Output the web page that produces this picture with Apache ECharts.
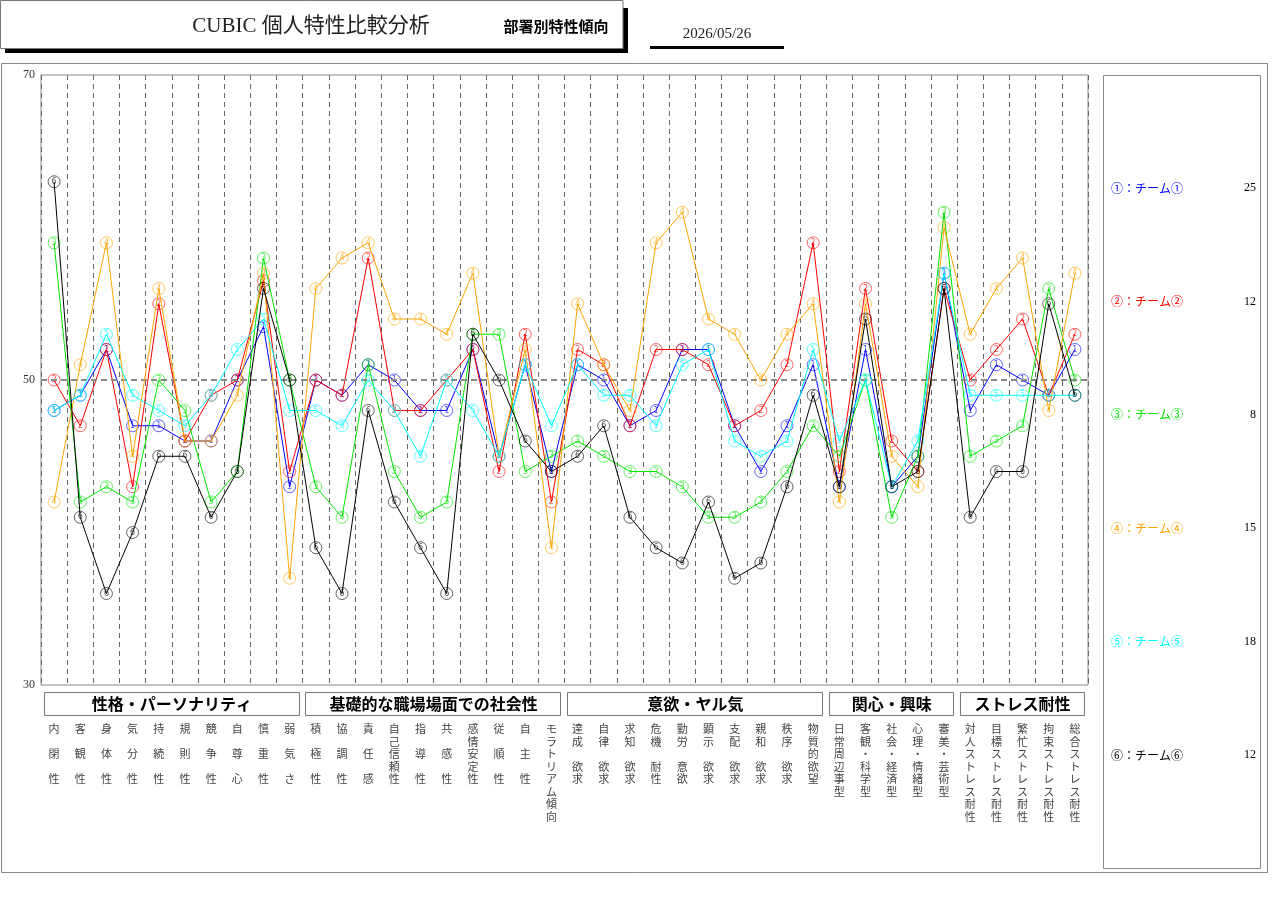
<!DOCTYPE html>
<html><head><meta charset="utf-8">
<script src="https://cdn.jsdelivr.net/npm/echarts@6/dist/echarts.min.js"></script>
<style>html,body{margin:0;padding:0;background:#fff;}#c{width:1280px;height:905px;}</style>
</head><body><div id="c"></div>
<script>
const categories = ['内閉性','客観性','身体性','気分性','持続性','規則性','競争性','自尊心','慎重性','弱気さ',
  '積極性','協調性','責任感','自己信頼性','指導性','共感性','感情安定性','従順性','自主性','モラトリアム傾向',
  '達成欲求','自律欲求','求知欲求','危機耐性','勤労意欲','顕示欲求','支配欲求','親和欲求','秩序欲求','物質的欲望',
  '日常周辺事型','客観・科学型','社会・経済型','心理・情緒型','審美・芸術型',
  '対人ストレス耐性','目標ストレス耐性','繁忙ストレス耐性','拘束ストレス耐性','総合ストレス耐性'];
const groupNames = ['性格・パーソナリティ','基礎的な職場場面での社会性','意欲・ヤル気','関心・興味','ストレス耐性'];
const groupSizes = [10,10,10,5,5];
const seriesNames = ['①：チーム①','②：チーム②','③：チーム③','④：チーム④','⑤：チーム⑤','⑥：チーム⑥'];
const teamCounts = [25,12,8,15,18,12];
const yTicks = [30,50,70];
const refLevel = 50;

const team1 = [48,49,52,47,47,46,46,50,53.5,43, 50,49,51,50,48,48,52,45,51,44, 51,50,47,48,52,52,47,44,47,51, 43,52,43,45,57, 48,51,50,49,52];
const team2 = [50,47,52,43,55,46,49,50,56.5,44, 50,49,58,48,48,50,52,44,53,42, 52,51,47,52,52,51,47,48,51,59, 44,56,46,44,56, 50,52,54,49,53];
const team3 = [59,42,43,42,50,48,42,44,58,50, 43,41,51,44,41,42,53,53,44,45, 46,45,44,44,43,41,41,42,44,47, 45,50,41,45,61, 45,46,47,56,50];
const team4 = [42,51,59,45,56,46,46,49,57,37, 56,58,59,54,54,53,57,45,52,39, 55,51,48,59,61,54,53,50,53,55, 42,55,45,43,60, 53,56,58,48,57];
const team5 = [48,49,53,49,48,47,49,52,54,48, 48,47,50,48,45,50,48,45,51,47, 51,49,49,47,51,52,46,45,46,52, 46,50,43,46,57, 49,49,49,49,49];
const team6 = [63,41,36,40,45,45,41,44,56,50, 39,36,48,42,39,36,53,50,46,44, 45,47,41,39,38,42,37,38,43,49, 43,54,43,44,56, 41,44,44,55,49];
const teamValues = [team1,team2,team3,team4,team5,team6];
const colors = ['#0000ff','#ff0000','#00e600','#ffa500','#00ffff','#000000'];
const digits = ['1','2','3','4','5','6'];

function vert(s){
  const c = Array.from(s);
  if (c.length === 3) return c.join('\n\n');
  if (c.length === 4) return c[0]+'\n'+c[1]+'\n\n'+c[2]+'\n'+c[3];
  return c.join('\n');
}

const jp = '"Noto Sans CJK JP", sans-serif';
const serif = '"Liberation Serif", "Noto Sans CJK JP", serif';

const chart = echarts.init(document.getElementById('c'));
const series = teamValues.map((vals, i) => ({
  name: seriesNames[i],
  type: 'line',
  data: vals,
  z: 2 + i,
  symbol: 'circle',
  symbolSize: 12,
  lineStyle: {color: colors[i], width: 1},
  itemStyle: {color: 'rgba(255,255,255,0)', borderColor: colors[i], borderWidth: 1, opacity: 0.6},
  label: {show: true, position: 'inside', formatter: digits[i], fontSize: 8, color: colors[i], opacity: 0.7, fontFamily: 'DejaVu Sans'},
  emphasis: {disabled: true},
  markLine: i === 0 ? {
    silent: true, symbol: ['none','none'], label: {show: false},
    lineStyle: {type: [6,4], color: '#888', width: 2},
    data: [{yAxis: refLevel}]
  } : undefined
}));

chart.setOption({
  animation: false,
  backgroundColor: '#fff',
  grid: {left: 41, right: 192, top: 75, bottom: 220, show: true, borderColor: '#888', borderWidth: 1, backgroundColor: 'rgba(0,0,0,0)'},
  xAxis: {
    type: 'category', data: categories, boundaryGap: true,
    axisLine: {show: false}, axisTick: {show: false},
    splitLine: {show: true, interval: 0, lineStyle: {type: [5,4], color: '#666', width: 1}},
    axisLabel: {interval: 0, margin: 38, lineHeight: 12.5, fontSize: 11, color: '#444', verticalAlign: 'top', fontFamily: jp, formatter: v => vert(v)}
  },
  yAxis: {
    type: 'value', min: yTicks[0], max: yTicks[yTicks.length-1], interval: yTicks[1]-yTicks[0],
    axisLine: {show: false}, axisTick: {show: false}, splitLine: {show: false},
    axisLabel: {color: '#333', fontSize: 12, margin: 6, fontFamily: serif}
  },
  legend: {
    orient: 'vertical', left: 1100, top: 175, itemGap: 97.4, itemWidth: 0, itemHeight: 14,
    icon: 'rect', selectedMode: false,
    itemStyle: {opacity: 0}, lineStyle: {opacity: 0},
    data: seriesNames.map((n,i) => ({name: n, textStyle: {color: colors[i]}})),
    formatter: name => '{n|' + name + '}{c|' + teamCounts[seriesNames.indexOf(name)] + '}',
    textStyle: {fontSize: 12, fontFamily: jp, rich: {
      n: {width: 125, fontSize: 12, fontFamily: jp},
      c: {width: 20, align: 'right', color: '#000', fontSize: 12, fontFamily: serif}
    }}
  },
  series: series
});

// decorations and group boxes computed from the axis scale
const band = chart.convertToPixel({xAxisIndex: 0}, categories[1]) - chart.convertToPixel({xAxisIndex: 0}, categories[0]);
const graphics = [
  {type: 'rect', shape: {x: 1.5, y: 63.5, width: 1266, height: 809}, style: {fill: null, stroke: '#888', lineWidth: 1}, z: -1},
  {type: 'rect', shape: {x: 1103.5, y: 75.5, width: 157, height: 793}, style: {fill: null, stroke: '#888', lineWidth: 1}, z: -1},
  {type: 'rect', shape: {x: 5, y: 48, width: 623, height: 5}, style: {fill: '#000'}},
  {type: 'rect', shape: {x: 623, y: 8, width: 5, height: 45}, style: {fill: '#000'}},
  {type: 'rect', shape: {x: 0.5, y: 0.5, width: 622.5, height: 48}, style: {fill: '#fff', stroke: '#777', lineWidth: 1}},
  {type: 'text', x: 311, y: 26, style: {text: 'CUBIC 個人特性比較分析', font: '21px ' + serif, fill: '#222', textAlign: 'center', textVerticalAlign: 'middle'}},
  {type: 'text', x: 556, y: 26, style: {text: '部署別特性傾向', font: 'bold 15px ' + jp, fill: '#000', textAlign: 'center', textVerticalAlign: 'middle'}},
  {type: 'text', x: 717, y: 34, style: {text: '2026/05/26', font: '15px ' + serif, fill: '#222', textAlign: 'center', textVerticalAlign: 'middle'}},
  {type: 'rect', shape: {x: 650, y: 46, width: 134, height: 3}, style: {fill: '#000'}}
];
let start = 0;
groupNames.forEach((g, gi) => {
  const end = start + groupSizes[gi] - 1;
  const x0 = chart.convertToPixel({xAxisIndex: 0}, categories[start]) - band/2 + 3.5;
  const x1 = chart.convertToPixel({xAxisIndex: 0}, categories[end]) + band/2 - 3.5;
  graphics.push({type: 'rect', shape: {x: Math.round(x0)-0.5, y: 692.5, width: Math.round(x1 - x0), height: 23}, style: {fill: '#fff', stroke: '#777', lineWidth: 1}});
  graphics.push({type: 'text', x: (x0+x1)/2, y: 704, style: {text: g, font: 'bold 16px ' + jp, fill: '#000', textAlign: 'center', textVerticalAlign: 'middle'}});
  start = end + 1;
});
chart.setOption({graphic: graphics});
</script>
</body></html>
